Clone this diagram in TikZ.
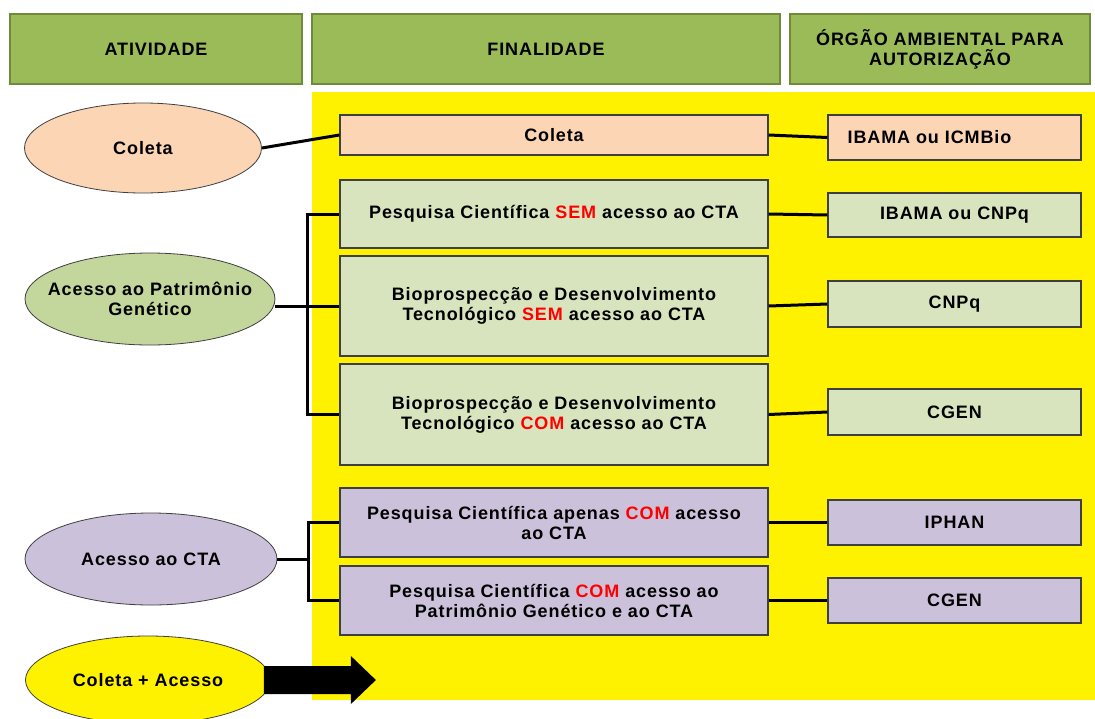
\documentclass[tikz,border=0pt]{standalone}
\usepackage{fontspec}
\setmainfont{Liberation Sans}[LetterSpace=5]
\usetikzlibrary{shapes.geometric,calc}

\definecolor{headgreen}{HTML}{9BBB59}
\definecolor{headline}{HTML}{6F8A3A}
\definecolor{peach}{HTML}{FCD5B5}
\definecolor{lightgreen}{HTML}{D7E4BD}
\definecolor{midgreen}{HTML}{C3D69B}
\definecolor{lavender}{HTML}{CCC1DA}
\definecolor{boxline}{HTML}{3F3F3F}
\newcommand{\red}[1]{\textcolor{red}{#1}}

\begin{document}
\begin{tikzpicture}[x=1pt,y=-1pt,
  font=\bfseries\fontsize{18}{20}\selectfont,
  head/.style={draw=headline,fill=headgreen,line width=2.5pt,inner sep=0pt,
    minimum height=70pt,align=center},
  oval/.style={ellipse,draw=boxline,line width=0.8pt,inner sep=0pt,align=center},
  mid/.style={draw=boxline,line width=1.2pt,inner sep=0pt,minimum width=428pt,align=center},
  org/.style={draw=boxline,line width=1.2pt,inner sep=0pt,minimum width=253pt,align=center},
  link/.style={line width=3pt}]
  \useasboundingbox (0,0) rectangle (1095,718);
  \fill[white] (0,0) rectangle (1095,718);

  % column headers
  \node[head,minimum width=292pt] (hatv) at (156,49) {ATIVIDADE};
  \node[head,minimum width=468pt] (hfin) at (546,49) {FINALIDADE};
  \node[head,minimum width=300pt] (horg) at (940,49) {ÓRGÃO AMBIENTAL PARA\\AUTORIZAÇÃO};

  \fill[yellow] (312,92) rectangle (1095,700);

  % atividades
  \node[oval,fill=peach,minimum width=237pt,minimum height=90pt] (col) at (143,148) {Coleta};
  \node[oval,fill=midgreen,inner xsep=-16pt,minimum width=250pt,minimum height=92pt] (pg) at (150,299) {Acesso ao Patrimônio\\Genético};
  \node[oval,fill=lavender,minimum width=252pt,minimum height=92pt] (cta) at (151,559) {Acesso ao CTA};
  \node[oval,fill=yellow,minimum width=245pt,minimum height=88pt] (ca) at (148,680) {Coleta + Acesso};

  % finalidades
  \node[mid,fill=peach,minimum height=40pt] (fcol) at (554,135) {Coleta};
  \node[mid,fill=lightgreen,minimum height=68pt] (psem) at (554,214) {Pesquisa Científica \red{SEM} acesso ao CTA};
  \node[mid,fill=lightgreen,minimum height=100pt] (bsem) at (554,306) {Bioprospecção e Desenvolvimento\\Tecnológico \red{SEM} acesso ao CTA};
  \node[mid,fill=lightgreen,minimum height=101pt] (bcom) at (554,414.5) {Bioprospecção e Desenvolvimento\\Tecnológico \red{COM} acesso ao CTA};
  \node[mid,fill=lavender,minimum height=69pt] (pap) at (554,522.5) {Pesquisa Científica apenas \red{COM} acesso\\ao CTA};
  \node[mid,fill=lavender,minimum height=69pt] (ppg) at (554,600.5) {Pesquisa Científica \red{COM} acesso ao\\Patrimônio Genético e ao CTA};

  % orgaos
  \node[org,fill=peach,minimum height=45pt] (ibm) at (954.5,137.5) {IBAMA ou ICMBio\hspace*{50pt}};
  \node[org,fill=lightgreen,minimum height=44pt] (ibc) at (954.5,215) {IBAMA ou CNPq};
  \node[org,fill=lightgreen,minimum height=46pt] (cnpq) at (954.5,304) {CNPq};
  \node[org,fill=lightgreen,minimum height=46pt] (cgena) at (954.5,412) {CGEN};
  \node[org,fill=lavender,minimum height=45pt] (iphan) at (954.5,522.5) {IPHAN};
  \node[org,fill=lavender,minimum height=45pt] (cgenb) at (954.5,600.5) {CGEN};

  \coordinate (busa) at (307,0);
  \coordinate (busb) at (308,0);

  % ligacoes
  \draw[link] (col.east) -- (fcol.west);
  \draw[link] (psem.west) -| (busa |- bcom.west) -- (bcom.west);
  \draw[link] (pg.east |- bsem.west) -- (bsem.west);
  \draw[link] (pap.west) -| (busb |- ppg.west) -- (ppg.west);
  \draw[link] (cta.east) -- (cta.east -| busb);
  \draw[link] (fcol.east) -- (ibm.west);
  \draw[link] (psem.east) -- (ibc.west);
  \draw[link] (bsem.east) -- (cnpq.west);
  \draw[link] (bcom.east) -- (cgena.west);
  \draw[link] (pap.east) -- (iphan.west);
  \draw[link] (ppg.east) -- (cgenb.west);

  % seta
  \fill[black] ($(ca.east)+(-7,-14)$) -- ++(87,0) -- ++(0,-10) -- ++(25,24)
    -- ++(-25,24) -- ++(0,-10) -- ++(-87,0) -- cycle;
\end{tikzpicture}
\end{document}
